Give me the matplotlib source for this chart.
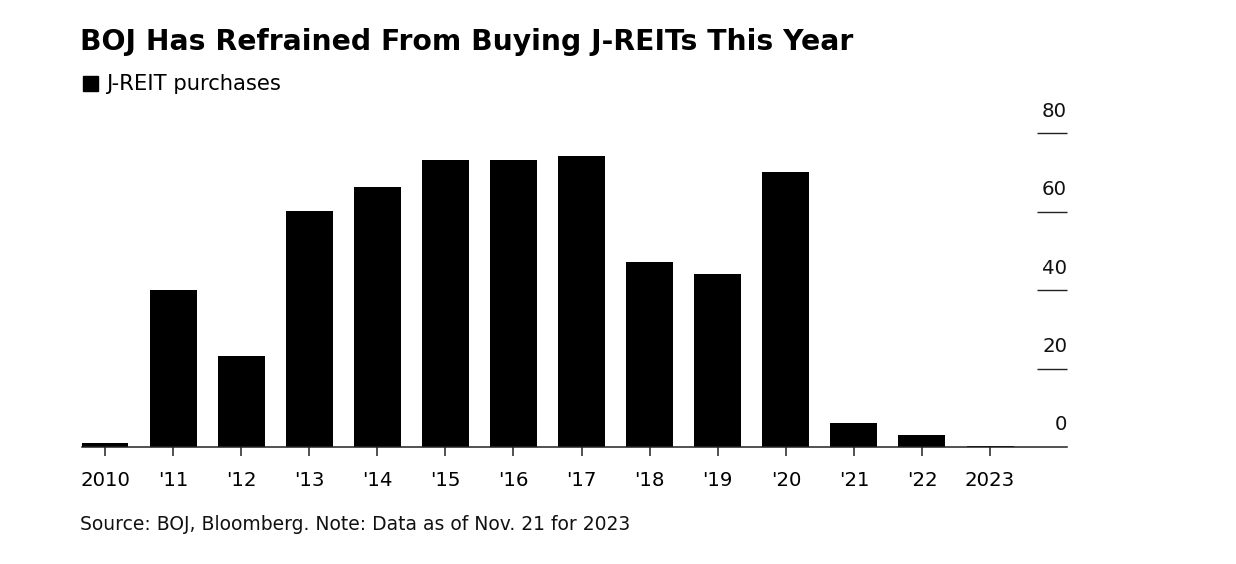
import matplotlib
matplotlib.use("Agg")
import matplotlib.pyplot as plt
from matplotlib.transforms import blended_transform_factory
from matplotlib.patches import Rectangle

plt.rcParams['font.family'] = ['DejaVu Sans']

categories = ["2010", "'11", "'12", "'13", "'14", "'15", "'16", "'17", "'18", "'19", "'20", "'21", "'22", "2023"]
purchases = [1.0, 40.0, 23.2, 60.2, 66.3, 73.2, 73.2, 74.2, 47.2, 44.1, 70.1, 6.1, 3.0, 0.2]
y_ticks = [0, 20, 40, 60, 80]
title = "BOJ Has Refrained From Buying J-REITs This Year"
legend_label = "J-REIT purchases"
source = "Source: BOJ, Bloomberg. Note: Data as of Nov. 21 for 2023"

W, H = 1236, 564
fig = plt.figure(figsize=(W / 100, H / 100), dpi=100)
ax = fig.add_axes([81.5 / W, 1 - 446.9 / H, (1067 - 81.5) / W, (446.9 - 133.3) / H])

x = list(range(len(categories)))
ax.bar(x, purchases, width=0.69, color='black', zorder=2)
ax.set_xlim(-0.345, 14.13)
ax.set_ylim(0, 80)

for s in ['top', 'left', 'right']:
    ax.spines[s].set_visible(False)
ax.spines['bottom'].set_color('#222222')
ax.spines['bottom'].set_linewidth(1.1)
ax.spines['bottom'].set_zorder(3)

ax.set_xticks(x)
ax.set_xticklabels(categories, fontsize=14.2)
ax.tick_params(axis='x', length=6.5, width=1.1, color='#222222', pad=11)

ax.yaxis.tick_right()
ax.set_yticks([v for v in y_ticks if v > 0])
ax.set_yticklabels([])
ax.tick_params(axis='y', direction='in', length=21.6, width=1.0, color='#222222', right=True)

trans = blended_transform_factory(ax.transAxes, ax.transData)
for v in y_ticks:
    ax.annotate(str(v), xy=(1.0, v), xycoords=trans, xytext=(0, 9), textcoords='offset points',
                ha='right', va='bottom', fontsize=14.2, color='#111111')

fig.text(80 / W, 1 - 42 / H, title, fontsize=20.3, fontweight='bold', ha='left', va='center')
fig.patches.append(Rectangle((83 / W, 1 - 91 / H), 15 / W, 15 / H, transform=fig.transFigure,
                             color='black', figure=fig))
fig.text(106.5 / W, 1 - 84 / H, legend_label, fontsize=15.2, ha='left', va='center')
fig.text(80 / W, 1 - 524 / H, source, fontsize=13.5, ha='left', va='center', color='#111111')

fig.savefig("out.png", dpi=100, facecolor='white')
